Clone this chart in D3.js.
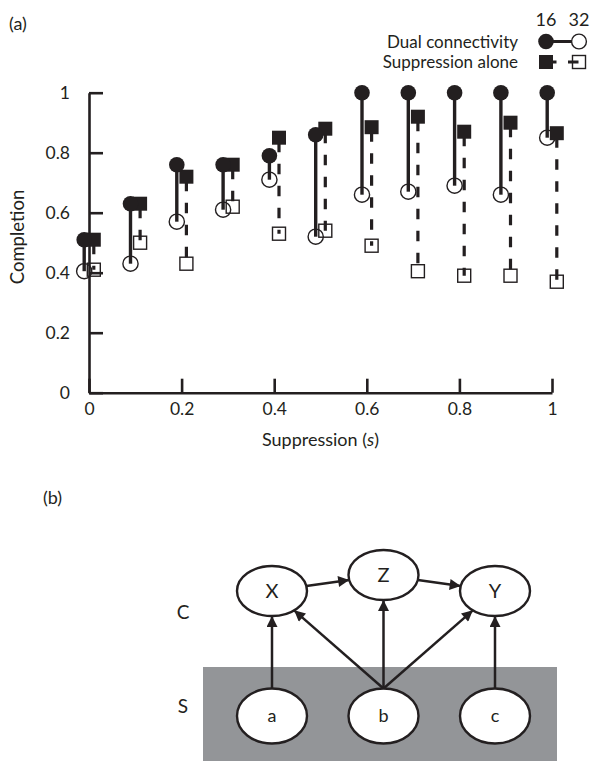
<!DOCTYPE html>
<html>
<head>
<meta charset="utf-8">
<script src="https://cdn.jsdelivr.net/npm/d3@7"></script>
<style>
  body { margin: 0; background: #fff; }
  text { font-family: Lato, "Open Sans", sans-serif; fill: #231f20; }
</style>
</head>
<body>
<div id="chart"></div>
<script>
// panel (a) data
const suppression = [0, 0.1, 0.2, 0.3, 0.4, 0.5, 0.6, 0.7, 0.8, 0.9, 1];
const dual16 = [0.51, 0.63, 0.76, 0.76, 0.79, 0.86, 1.0, 1.0, 1.0, 1.0, 1.0];
const dual32 = [0.405, 0.43, 0.57, 0.61, 0.71, 0.52, 0.66, 0.67, 0.69, 0.66, 0.85];
const supp16 = [0.51, 0.63, 0.72, 0.76, 0.85, 0.88, 0.885, 0.92, 0.87, 0.9, 0.865];
const supp32 = [0.41, 0.5, 0.43, 0.62, 0.53, 0.54, 0.49, 0.405, 0.39, 0.39, 0.37];
const xTicks = [0, 0.2, 0.4, 0.6, 0.8, 1];
const yTicks = [0, 0.2, 0.4, 0.6, 0.8, 1];
const legendRows = ["Dual connectivity", "Suppression alone"];
const legendCols = ["16", "32"];

// panel (b) data
const layers = ["C", "S"];
const nodes = [
  { id: "X", col: 0, layer: "C" },
  { id: "Z", col: 1, layer: "C" },
  { id: "Y", col: 2, layer: "C" },
  { id: "a", col: 0, layer: "S" },
  { id: "b", col: 1, layer: "S" },
  { id: "c", col: 2, layer: "S" }
];
const edges = [
  ["a", "X"], ["b", "X"], ["b", "Z"], ["b", "Y"], ["c", "Y"],
  ["X", "Z"], ["Z", "Y"]
];

const width = 592;
const height = 761;
const ink = "#231f20";

const svg = d3.select("#chart")
  .append("svg")
  .attr("width", width)
  .attr("height", height);

// ---------- (a) ----------
const x = d3.scaleLinear().domain([0, 1]).range([89, 552]);
const y = d3.scaleLinear().domain([0, 1]).range([392.7, 92.7]);
const fmt = d3.format("~g");
const off = 4.8; // circles sit left, squares right of each s

svg.append("text").attr("x", 9).attr("y", 30).attr("font-size", 18).text("(a)");

const yAxis = svg.append("g")
  .attr("transform", `translate(${x(0)},0)`)
  .call(d3.axisLeft(y).tickValues(yTicks).tickSize(-14).tickSizeOuter(0).tickPadding(19).tickFormat(fmt));
const xAxis = svg.append("g")
  .attr("transform", `translate(0,${y(0)})`)
  .call(d3.axisBottom(x).tickValues(xTicks).tickSize(-14).tickSizeOuter(0).tickPadding(10).tickFormat(fmt));

[yAxis, xAxis].forEach(g => {
  g.selectAll("path, line").attr("stroke", ink).attr("stroke-width", 2.6);
  g.selectAll("text").attr("font-size", 17.5).attr("fill", ink).style("font-family", "Lato, sans-serif");
});

svg.append("text")
  .attr("transform", "translate(24,237) rotate(-90)")
  .attr("text-anchor", "middle")
  .attr("font-size", 18.5)
  .text("Completion");

const xt = svg.append("text")
  .attr("x", (x(0) + x(1)) / 2)
  .attr("y", 446)
  .attr("text-anchor", "middle")
  .attr("font-size", 18);
xt.append("tspan").text("Suppression (");
xt.append("tspan").attr("font-style", "italic").text("s");
xt.append("tspan").text(")");

const rows = suppression.map((s, i) => ({
  s: s, d16: dual16[i], d32: dual32[i], p16: supp16[i], p32: supp32[i]
}));

const plot = svg.append("g");

// dashed: suppression alone
plot.selectAll(".supp-line")
  .data(rows)
  .join("line")
  .attr("x1", d => x(d.s) + off).attr("x2", d => x(d.s) + off)
  .attr("y1", d => y(d.p16)).attr("y2", d => y(d.p32))
  .attr("stroke", ink).attr("stroke-width", 3.2)
  .attr("stroke-dasharray", "10.5,11.5")
  .attr("stroke-dashoffset", -4);

// solid: dual connectivity
plot.selectAll(".dual-line")
  .data(rows)
  .join("line")
  .attr("x1", d => x(d.s) - off).attr("x2", d => x(d.s) - off)
  .attr("y1", d => y(d.d16)).attr("y2", d => y(d.d32))
  .attr("stroke", ink).attr("stroke-width", 3.4);

plot.selectAll(".d32")
  .data(rows)
  .join("circle")
  .attr("cx", d => x(d.s) - off).attr("cy", d => y(d.d32))
  .attr("r", 7.6).attr("fill", "none").attr("stroke", ink).attr("stroke-width", 1.4);

plot.selectAll(".p32")
  .data(rows)
  .join("rect")
  .attr("x", d => x(d.s) + off - 6.5).attr("y", d => y(d.p32) - 6.5)
  .attr("width", 13).attr("height", 13)
  .attr("fill", "none").attr("stroke", ink).attr("stroke-width", 1.4);

plot.selectAll(".p16")
  .data(rows)
  .join("rect")
  .attr("x", d => x(d.s) + off - 7).attr("y", d => y(d.p16) - 7)
  .attr("width", 14).attr("height", 14)
  .attr("fill", ink);

plot.selectAll(".d16")
  .data(rows)
  .join("circle")
  .attr("cx", d => x(d.s) - off).attr("cy", d => y(d.d16))
  .attr("r", 7.8).attr("fill", ink);

// legend
const lg = svg.append("g");
const colX = d3.scalePoint().domain(legendCols).range([546, 579]);
const rowY = d3.scalePoint().domain(legendRows).range([41.5, 62]);

lg.selectAll(".hdr")
  .data(legendCols)
  .join("text")
  .attr("x", d => colX(d)).attr("y", 26)
  .attr("text-anchor", "middle").attr("font-size", 18)
  .text(d => d);

lg.selectAll(".lab")
  .data(legendRows)
  .join("text")
  .attr("x", 518).attr("y", d => rowY(d) + 6)
  .attr("text-anchor", "end").attr("font-size", 17)
  .text(d => d);

const r0 = rowY(legendRows[0]);
const r1 = rowY(legendRows[1]);
lg.append("line")
  .attr("x1", colX("16")).attr("x2", colX("32")).attr("y1", r0).attr("y2", r0)
  .attr("stroke", ink).attr("stroke-width", 3.2);
lg.append("line")
  .attr("x1", colX("16")).attr("x2", colX("32")).attr("y1", r1).attr("y2", r1)
  .attr("stroke", ink).attr("stroke-width", 3.2).attr("stroke-dasharray", "10.5,11.5");
lg.append("circle").attr("cx", colX("32")).attr("cy", r0).attr("r", 7.4)
  .attr("fill", "#fff").attr("stroke", ink).attr("stroke-width", 1.4);
lg.append("circle").attr("cx", colX("16")).attr("cy", r0).attr("r", 7.8).attr("fill", ink);
lg.append("rect").attr("x", colX("32") - 6.5).attr("y", r1 - 6.5).attr("width", 13).attr("height", 13)
  .attr("fill", "none").attr("stroke", ink).attr("stroke-width", 1.4);
lg.append("rect").attr("x", colX("16") - 7).attr("y", r1 - 7).attr("width", 14).attr("height", 14)
  .attr("fill", ink);

// ---------- (b) ----------
svg.append("text").attr("x", 43).attr("y", 504).attr("font-size", 18).text("(b)");

const nx = d3.scaleLinear().domain([0, 2]).range([272, 495]);
const ny = d3.scalePoint().domain(layers).range([591, 716]);
const rx = 35;
const ry = { C: 25, S: 27.5 };
const lift = 16; // middle top node sits higher

nodes.forEach(n => {
  n.x = nx(n.col);
  n.y = ny(n.layer) - (n.layer === "C" && n.col === 1 ? lift : 0);
  n.rx = rx;
  n.ry = ry[n.layer];
});
const byId = new Map(nodes.map(n => [n.id, n]));

// shaded S layer
svg.append("rect")
  .attr("x", 203).attr("y", 667)
  .attr("width", 354).attr("height", height - 667)
  .attr("fill", "#939598");

svg.selectAll(".layer-label")
  .data(layers)
  .join("text")
  .attr("x", 183).attr("y", d => ny(d) + (d === "C" ? 28 : -3))
  .attr("text-anchor", "middle").attr("font-size", 19)
  .text(d => d);

svg.append("defs").append("marker")
  .attr("id", "arrow")
  .attr("viewBox", "0 0 10 10")
  .attr("refX", 10).attr("refY", 5)
  .attr("markerWidth", 13).attr("markerHeight", 11)
  .attr("markerUnits", "userSpaceOnUse")
  .attr("orient", "auto")
  .append("path")
  .attr("d", "M0,0L10,5L0,10Z")
  .attr("fill", ink);

function onEllipse(n, px, py) {
  const dx = px - n.x;
  const dy = py - n.y;
  const t = 1 / Math.sqrt((dx / n.rx) ** 2 + (dy / n.ry) ** 2);
  return [n.x + dx * t, n.y + dy * t];
}

const edgeData = edges.map(([s, t]) => {
  const a = byId.get(s);
  const b = byId.get(t);
  const start = a.layer === "S" ? [a.x, a.y - a.ry] : onEllipse(a, b.x, b.y);
  const end = onEllipse(b, start[0], start[1]);
  return { start, end };
});

svg.selectAll(".edge")
  .data(edgeData)
  .join("line")
  .attr("x1", d => d.start[0]).attr("y1", d => d.start[1])
  .attr("x2", d => d.end[0]).attr("y2", d => d.end[1])
  .attr("stroke", ink).attr("stroke-width", 2.5)
  .attr("marker-end", "url(#arrow)");

svg.selectAll(".node")
  .data(nodes)
  .join("ellipse")
  .attr("cx", d => d.x).attr("cy", d => d.y)
  .attr("rx", d => d.rx).attr("ry", d => d.ry)
  .attr("fill", "#fff").attr("stroke", ink).attr("stroke-width", 2.4);

svg.selectAll(".node-label")
  .data(nodes)
  .join("text")
  .attr("x", d => d.x).attr("y", d => d.y)
  .attr("dy", "0.35em")
  .attr("text-anchor", "middle")
  .attr("font-size", d => d.layer === "C" ? 20 : 18)
  .text(d => d.id);
</script>
</body>
</html>
